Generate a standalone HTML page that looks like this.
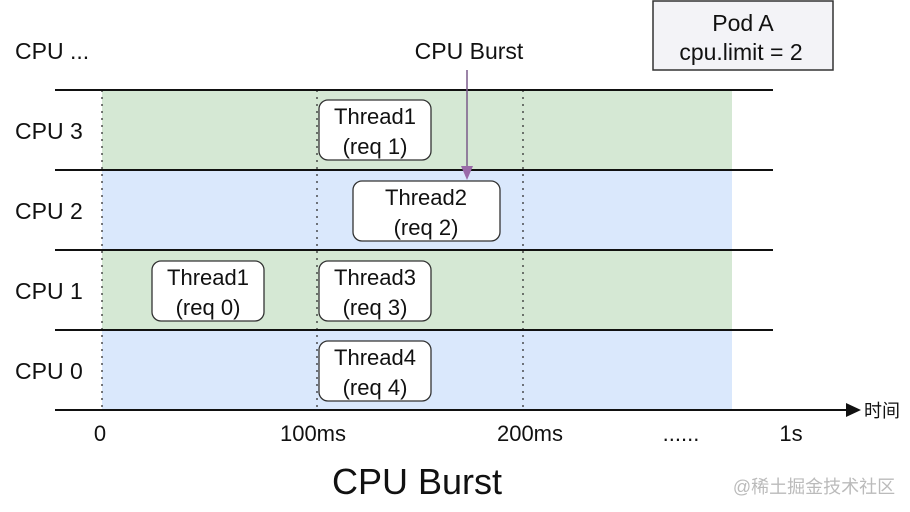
<!DOCTYPE html>
<html><head><meta charset="utf-8"><style>
html,body{margin:0;padding:0;background:#fff;}
svg{display:block;}
text{font-family:"Liberation Sans","Noto Sans CJK SC",sans-serif;fill:#111;}
</style></head><body>
<svg width="910" height="512" viewBox="0 0 910 512" xmlns="http://www.w3.org/2000/svg">
<rect x="0" y="0" width="910" height="512" fill="#fff"/>
<rect x="102" y="90" width="630" height="80" fill="#d5e8d4"/>
<rect x="102" y="170" width="630" height="80" fill="#dae8fc"/>
<rect x="102" y="250" width="630" height="80" fill="#d5e8d4"/>
<rect x="102" y="330" width="630" height="80" fill="#dae8fc"/>
<g stroke="#333" stroke-width="1.3" stroke-dasharray="2,5">
<line x1="102" y1="90" x2="102" y2="410"/>
<line x1="317" y1="90" x2="317" y2="410"/>
<line x1="523" y1="90" x2="523" y2="410"/>
</g>
<g stroke="#111" stroke-width="2">
<line x1="55" y1="90" x2="773" y2="90"/>
<line x1="55" y1="170" x2="773" y2="170"/>
<line x1="55" y1="250" x2="773" y2="250"/>
<line x1="55" y1="330" x2="773" y2="330"/>
<line x1="55" y1="410" x2="848" y2="410"/>
</g>
<polygon points="846,403 861,410 846,417" fill="#111"/>
<text x="864" y="417" font-size="18">时间</text>
<g font-size="23">
<text x="15" y="59">CPU ...</text>
<text x="15" y="139">CPU 3</text>
<text x="15" y="219">CPU 2</text>
<text x="15" y="299">CPU 1</text>
<text x="15" y="379">CPU 0</text>
</g>
<rect x="653" y="1" width="180" height="69" fill="#f3f3f7" stroke="#333" stroke-width="1.5"/>
<text x="743" y="31" font-size="23" text-anchor="middle">Pod A</text>
<text x="741" y="60" font-size="23" text-anchor="middle">cpu.limit = 2</text>
<text x="469" y="59" font-size="23" text-anchor="middle">CPU Burst</text>
<line x1="467" y1="70" x2="467" y2="170" stroke="#7a5a8a" stroke-width="1.5"/>
<polygon points="461,166 473,166 467,180" fill="#9a6aa8"/>
<g stroke="#333" stroke-width="1.3" fill="#fff">
<rect x="319" y="100" width="112" height="60" rx="9"/>
<rect x="353" y="181" width="147" height="60" rx="9"/>
<rect x="152" y="261" width="112" height="60" rx="9"/>
<rect x="319" y="261" width="112" height="60" rx="9"/>
<rect x="319" y="341" width="112" height="60" rx="9"/>
</g>
<g font-size="22" text-anchor="middle">
<text x="375" y="124">Thread1</text><text x="375" y="154">(req 1)</text>
<text x="426" y="205">Thread2</text><text x="426" y="235">(req 2)</text>
<text x="208" y="285">Thread1</text><text x="208" y="315">(req 0)</text>
<text x="375" y="285">Thread3</text><text x="375" y="315">(req 3)</text>
<text x="375" y="365">Thread4</text><text x="375" y="395">(req 4)</text>
</g>
<g font-size="22" text-anchor="middle">
<text x="100" y="441">0</text>
<text x="313" y="441">100ms</text>
<text x="530" y="441">200ms</text>
<text x="681" y="441">......</text>
<text x="791" y="441">1s</text>
</g>
<text x="417" y="494" font-size="36" text-anchor="middle">CPU Burst</text>
<text x="814" y="493" font-size="18" text-anchor="middle" style="fill:#bbb">@稀土掘金技术社区</text>
</svg>
</body></html>
